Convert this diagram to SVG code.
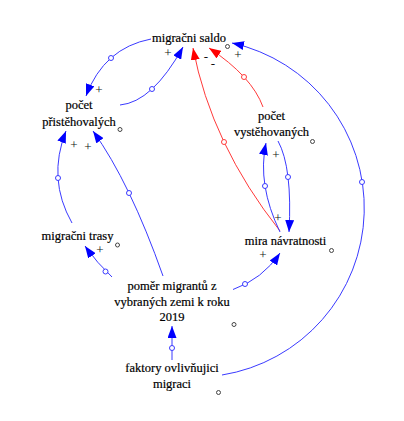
<svg xmlns="http://www.w3.org/2000/svg" width="404" height="421" viewBox="0 0 404 421">
<style>
  .lbl{font-family:"Liberation Serif","Times New Roman",serif;font-size:12.5px;fill:#000;stroke:#000;stroke-width:0.2;text-anchor:middle}
  .pol{font-family:"Liberation Serif","Times New Roman",serif;font-size:13px;fill:#111;text-anchor:middle}
  .lb{fill:none;stroke:#3a3aff;stroke-width:1}
  .lr{fill:none;stroke:#ff3a3a;stroke-width:1}
  .hb{fill:#fff;stroke:#3a3aff;stroke-width:1}
  .hr{fill:#fff;stroke:#ff3a3a;stroke-width:1}
  .sh{fill:#fff;stroke:#444;stroke-width:1}
</style>
<defs>
  <marker id="ab" markerUnits="userSpaceOnUse" markerWidth="13" markerHeight="9" refX="12" refY="4.5" orient="auto" viewBox="0 0 13 9">
    <path d="M0,0 L12,4.5 L0,9 Z" fill="#0000ff"/>
  </marker>
  <marker id="ar" markerUnits="userSpaceOnUse" markerWidth="13" markerHeight="9" refX="12" refY="4.5" orient="auto" viewBox="0 0 13 9">
    <path d="M0,0 L12,4.5 L0,9 Z" fill="#ff0000"/>
  </marker>
</defs>
<rect width="404" height="421" fill="#fff"/>
<g id="connectors">
  <path class="lb" d="M151,39 Q104,48 86,96" marker-end="url(#ab)"/>
  <circle class="hb" cx="111" cy="58" r="2.5"/>
  <path class="lb" d="M120,105 Q152.5,102 183,47" marker-end="url(#ab)"/>
  <circle class="hb" cx="152" cy="89" r="2.5"/>
  <path class="lr" d="M263,107 Q252,76.5 209,48" marker-end="url(#ar)"/>
  <circle class="hr" cx="244" cy="77" r="2.5"/>
  <path class="lr" d="M280,231 Q211.5,144.5 193,48" marker-end="url(#ar)"/>
  <circle class="hr" cx="224" cy="142" r="2.5"/>
  <path class="lb" d="M278,141 Q292.5,167.5 289,232" marker-end="url(#ab)"/>
  <circle class="hb" cx="288" cy="177" r="2.5"/>
  <path class="lb" d="M280,232 Q257,184.5 266,143" marker-end="url(#ab)"/>
  <circle class="hb" cx="265" cy="186" r="2.5"/>
  <path class="lb" d="M222,375 A169.1,169.1 0 0 0 232,43" marker-end="url(#ab)"/>
  <circle class="hb" cx="362" cy="182" r="2.5"/>
  <path class="lb" d="M233,289.5 A94.4,94.4 0 0 0 280,253" marker-end="url(#ab)"/>
  <circle class="hb" cx="245" cy="284" r="2.5"/>
  <path class="lb" d="M163,276 Q130,182.5 93,131" marker-end="url(#ab)"/>
  <circle class="hb" cx="129" cy="193" r="2.5"/>
  <path class="lb" d="M72,223 Q47,179 66,131" marker-end="url(#ab)"/>
  <circle class="hb" cx="58" cy="178" r="2.5"/>
  <path class="lb" d="M112,277 Q97,263 85,246" marker-end="url(#ab)"/>
  <circle class="hb" cx="105.5" cy="271.5" r="2.5"/>
  <path class="lb" d="M172,360 L172,326" marker-end="url(#ab)"/>
  <circle class="hb" cx="172" cy="348" r="2.5"/>
  <text class="pol" x="99" y="94">+</text>
  <text class="pol" x="168" y="57">+</text>
  <text class="pol" x="206" y="61">-</text>
  <text class="pol" x="213" y="68">-</text>
  <text class="pol" x="238" y="59">+</text>
  <text class="pol" x="278" y="222">+</text>
  <text class="pol" x="276" y="159">+</text>
  <text class="pol" x="263" y="259">+</text>
  <text class="pol" x="88" y="151">+</text>
  <text class="pol" x="74" y="149">+</text>
  <text class="pol" x="100" y="253.5">+</text>
</g>
<g id="migracni-saldo">
  <text class="lbl" x="189" y="42">migračni saldo</text>
  <circle class="sh" cx="227.5" cy="46.5" r="2"/>
</g>
<g id="pocet-pristehovalych">
  <text class="lbl" x="79" y="109">počet</text>
  <text class="lbl" x="79" y="126">přistěhovalých</text>
  <circle class="sh" cx="120" cy="129.5" r="2"/>
</g>
<g id="pocet-vystehovanych">
  <text class="lbl" x="271.5" y="120">počet</text>
  <text class="lbl" x="271.5" y="136">vystěhovaných</text>
  <circle class="sh" cx="312.5" cy="141.5" r="2"/>
</g>
<g id="mira-navratnosti">
  <text class="lbl" x="285.5" y="245">mira návratnosti</text>
  <circle class="sh" cx="331.5" cy="250.5" r="2"/>
</g>
<g id="migracni-trasy">
  <text class="lbl" x="77.5" y="240">migračni trasy</text>
  <circle class="sh" cx="117.5" cy="245" r="2"/>
</g>
<g id="pomer-migrantu">
  <text class="lbl" x="172" y="290">poměr migrantů z</text>
  <text class="lbl" x="172" y="305.5">vybraných zemi k roku</text>
  <text class="lbl" x="172" y="321">2019</text>
  <circle class="sh" cx="234" cy="324.5" r="2"/>
</g>
<g id="faktory">
  <text class="lbl" x="172" y="372">faktory ovlivňujici</text>
  <text class="lbl" x="172" y="387.5">migraci</text>
  <circle class="sh" cx="218.5" cy="392.5" r="2"/>
</g>
</svg>
